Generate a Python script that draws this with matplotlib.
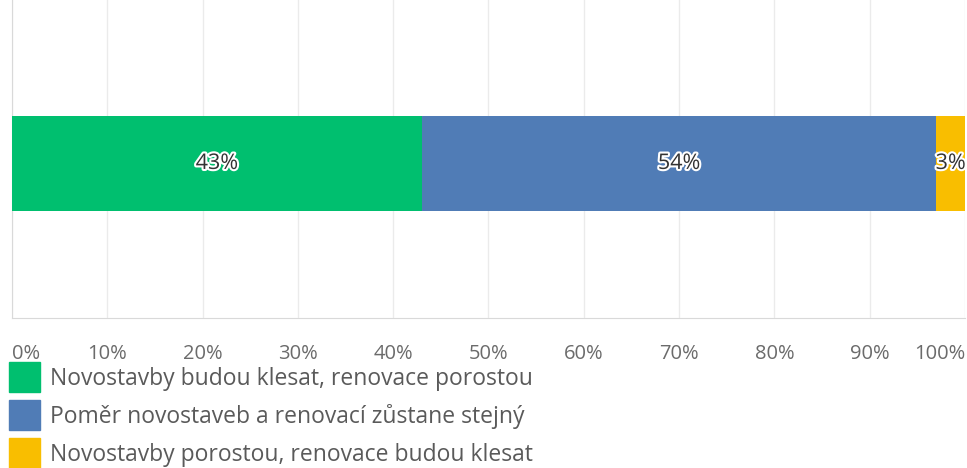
import matplotlib.pyplot as plt
import matplotlib.patheffects as pe
from matplotlib.patches import Patch

categories = ['Novostavby budou klesat, renovace porostou',
              'Poměr novostaveb a renovací zůstane stejný',
              'Novostavby porostou, renovace budou klesat']
values = [43, 54, 3]
colors = ['#00BF6F', '#507CB6', '#F9BE00']
tick_vals = list(range(0, 101, 10))
tick_labels = [f'{t}%' for t in tick_vals]

plt.rcParams['font.family'] = ['Open Sans', 'DejaVu Sans']

fig = plt.figure(figsize=(9.67, 4.68), dpi=100)
ax = fig.add_axes([12 / 967, 1 - 318 / 468, 953 / 967, 318 / 468])

left = 0
for v, c in zip(values, colors):
    ax.barh(0, v, left=left, height=0.3, color=c, zorder=3)
    ax.text(left + v / 2, 0, f'{v}%', ha='center', va='center', fontsize=15.5,
            color='#333333', zorder=4,
            path_effects=[pe.withStroke(linewidth=3, foreground='white')])
    left += v

ax.set_xlim(0, 100)
ax.set_ylim(-0.486, 0.514)
ax.set_yticks([])
ax.set_xticks(tick_vals)
ax.set_xticklabels(tick_labels, fontsize=14.5, color='#6b6b6b')
ax.tick_params(axis='x', length=0, pad=19)
labs = ax.get_xticklabels()
labs[0].set_ha('left')
labs[-1].set_ha('right')
ax.grid(axis='x', color='#ebebeb', linewidth=1, zorder=0)
for s in ['top', 'right']:
    ax.spines[s].set_visible(False)
ax.spines['left'].set_color('#d9d9d9')
ax.spines['bottom'].set_color('#d9d9d9')

handles = [Patch(facecolor=c, edgecolor=c) for c in colors]
fig.legend(handles, categories, loc='upper left', bbox_to_anchor=(9 / 967, 1 - 362 / 468),
           frameon=False, fontsize=16.5, labelcolor='#5a5a5a',
           handlelength=1.35, handleheight=1.64, handletextpad=0.44,
           labelspacing=0.35, borderpad=0, borderaxespad=0)

fig.savefig('out.png', dpi=100)
